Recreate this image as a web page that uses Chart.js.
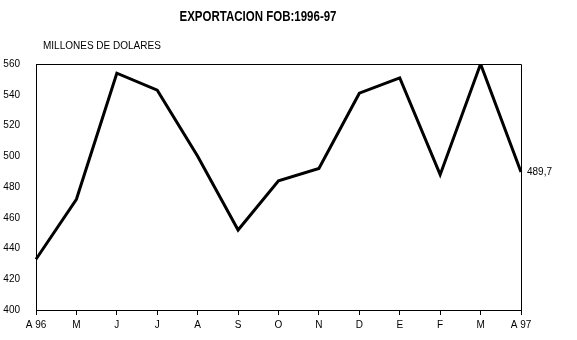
<!DOCTYPE html>
<html>
<head>
<meta charset="utf-8">
<script src="https://cdn.jsdelivr.net/npm/chart.js@4"></script>
<style>
  body { margin: 0; background: #fff; }
  #wrap { width: 577px; height: 340px; }
</style>
</head>
<body>
<div id="wrap"><canvas id="fob"></canvas></div>
<script>
const months = ["A 96", "M", "J", "J", "A", "S", "O", "N", "D", "E", "F", "M", "A 97"];
const exportFob = [433, 472, 554, 543, 500, 452, 484, 492, 541, 551, 488, 560, 489.7];
const yTicks = [400, 420, 440, 460, 480, 500, 520, 540, 560];
const lastLabel = "489,7";

const smallFont = { family: "'Liberation Sans', Arial, sans-serif", size: 10 };

// title, unit text, end label and the box round the plot
const decor = {
  id: 'decor',
  afterDraw(chart) {
    const ctx = chart.ctx;
    const a = chart.chartArea;
    ctx.save();
    ctx.strokeStyle = '#000';
    ctx.lineWidth = 1;
    ctx.beginPath();
    ctx.moveTo(a.left, a.top + 0.5);
    ctx.lineTo(a.right + 0.5, a.top + 0.5);
    ctx.lineTo(a.right + 0.5, a.bottom);
    ctx.stroke();

    ctx.fillStyle = '#000';
    ctx.textBaseline = 'middle';

    // narrow bold title, squeezed to the reference width
    ctx.save();
    ctx.textAlign = 'center';
    ctx.font = "bold 14px 'Liberation Sans', Arial, sans-serif";
    const title = "EXPORTACION FOB:1996-97";
    const w = ctx.measureText(title).width;
    ctx.translate(258, 17);
    ctx.scale(157 / w, 1);
    ctx.fillText(title, 0, 0);
    ctx.restore();

    ctx.textAlign = 'left';
    ctx.font = "10px 'Liberation Sans', Arial, sans-serif";
    ctx.fillText("MILLONES DE DOLARES", 43, 46);

    const y = chart.scales.y.getPixelForValue(exportFob[exportFob.length - 1]);
    ctx.fillText(lastLabel, a.right + 6, y);
    ctx.restore();
  }
};

new Chart(document.getElementById("fob"), {
  type: 'line',
  data: {
    labels: months,
    datasets: [{
      data: exportFob,
      borderColor: '#000',
      borderWidth: 3,
      pointRadius: 0,
      tension: 0,
      fill: false
    }]
  },
  options: {
    responsive: true,
    maintainAspectRatio: false,
    animation: false,
    layout: { padding: { left: 0, right: 56, top: 64, bottom: 0 } },
    plugins: {
      legend: { display: false },
      title: { display: false },
      tooltip: { enabled: false }
    },
    scales: {
      x: {
        type: 'category',
        offset: false,
        grid: { display: true, drawOnChartArea: false, drawTicks: true, tickLength: 5, color: '#000' },
        border: { display: true, color: '#000', width: 1 },
        ticks: { color: '#000', font: smallFont, padding: 4, maxRotation: 0, autoSkip: false },
        afterFit(s) { s.height = 30; }
      },
      y: {
        min: 400,
        max: 560,
        afterBuildTicks(s) { s.ticks = yTicks.map(v => ({ value: v })); },
        grid: { display: false },
        border: { display: true, color: '#000', width: 1 },
        ticks: { color: '#000', font: smallFont, padding: 8 },
        afterFit(s) { s.width = 36; }
      }
    }
  },
  plugins: [decor]
});
</script>
</body>
</html>
